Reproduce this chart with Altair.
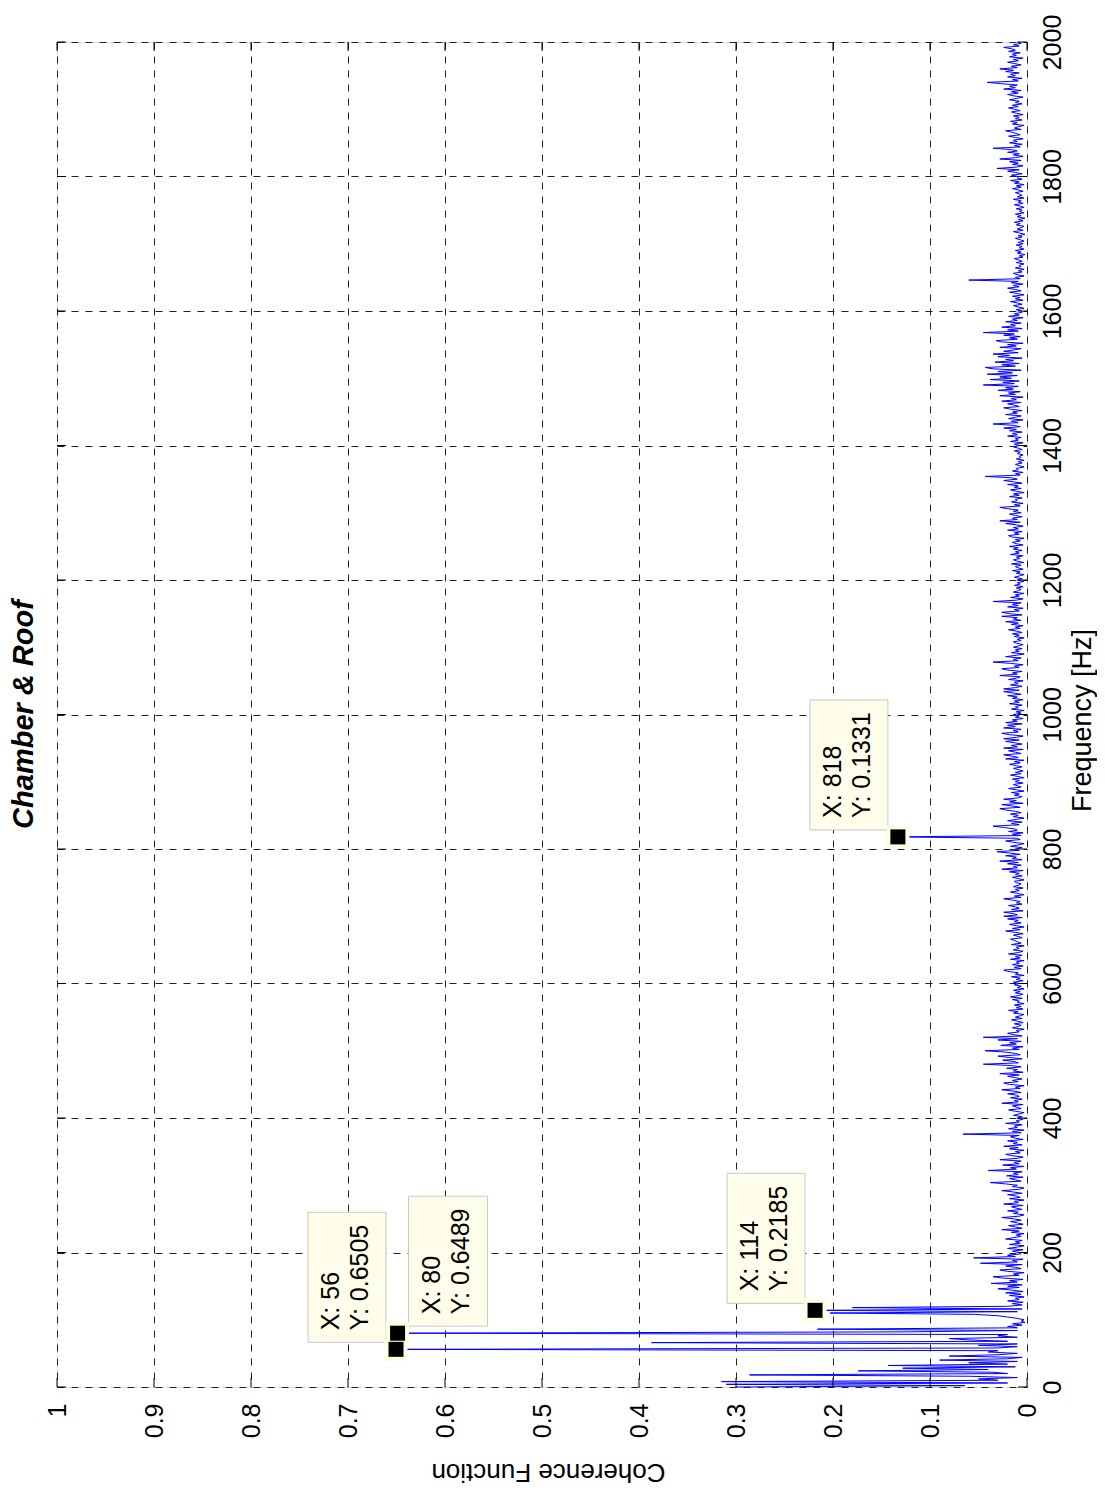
import altair as alt
import pandas as pd

# ---------------- data (coherence in units of 0.001, frequency step 2 Hz) -------------
coh_0000_0198 = [
    300, 64, 310, 20, 315, 30, 50, 10, 60, 286,
    20, 35, 174, 40, 128, 12, 143, 20, 60, 10,
    90, 20, 5, 80, 30, 10, 40, 30, 650.5, 30,
    10, 50, 10, 387, 20, 60, 80, 10, 30, 20,
    648.9, 124, 10, 216, 10, 20, 5, 15, 2, 6,
    3, 10, 20, 30, 54, 203, 10, 218.5, 5, 180,
    20, 5, 15, 4, 20, 8, 12, 3, 18, 6,
    22, 4, 15, 30, 8, 20, 5, 37, 10, 18,
    4, 25, 35, 8, 14, 3, 20, 28, 6, 12,
    22, 5, 48, 10, 15, 4, 55, 12, 20, 6,
]
coh_0200_0398 = [
    8, 15, 4, 20, 10, 3, 18, 7, 12, 5,
    22, 14, 6, 11, 3, 16, 8, 26, 5, 12,
    19, 4, 10, 17, 6, 13, 26, 8, 3, 14,
    9, 20, 5, 11, 16, 4, 24, 9, 13, 3,
    18, 7, 11, 20, 5, 14, 26, 8, 3, 15,
    10, 22, 38, 6, 12, 18, 4, 21, 9, 14,
    5, 40, 11, 17, 3, 25, 8, 13, 6, 28,
    10, 4, 16, 22, 7, 12, 3, 18, 9, 24,
    5, 14, 10, 20, 4, 12, 17, 8, 66, 6,
    15, 3, 19, 10, 13, 5, 22, 8, 11, 4,
]
coh_0400_0598 = [
    10, 5, 14, 8, 3, 12, 19, 6, 10, 15,
    4, 26, 9, 13, 5, 17, 8, 11, 20, 6,
    14, 26, 7, 12, 3, 18, 24, 9, 15, 5,
    12, 20, 8, 28, 4, 14, 10, 21, 6, 16,
    45, 9, 13, 25, 5, 18, 30, 7, 12, 22,
    43, 8, 15, 4, 27, 11, 18, 6, 30, 10,
    45, 5, 14, 20, 8, 11, 3, 15, 9, 6,
    13, 4, 10, 16, 5, 12, 7, 3, 14, 9,
    19, 4, 11, 6, 13, 3, 10, 8, 15, 5,
    17, 9, 4, 12, 7, 14, 3, 10, 6, 13,
]
coh_0600_0798 = [
    8, 14, 4, 11, 7, 16, 3, 12, 9, 20,
    24, 6, 13, 4, 15, 8, 11, 3, 17, 7,
    12, 5, 19, 9, 4, 14, 8, 11, 3, 16,
    6, 10, 13, 17, 5, 9, 14, 4, 12, 22,
    7, 15, 3, 11, 18, 6, 13, 9, 20, 5,
    24, 10, 14, 24, 4, 16, 8, 12, 19, 5,
    11, 7, 15, 24, 6, 13, 3, 10, 17, 8,
    12, 4, 14, 9, 6, 11, 13, 3, 9, 15,
    5, 12, 8, 18, 4, 26, 10, 14, 6, 20,
    9, 28, 5, 15, 11, 22, 7, 18, 31, 8,
]
coh_0800_0998 = [
    12, 5, 17, 9, 3, 14, 22, 7, 11, 133.1,
    6, 15, 4, 19, 10, 13, 24, 35, 8, 16,
    5, 20, 11, 3, 14, 9, 17, 6, 12, 22,
    28, 7, 15, 26, 4, 18, 11, 24, 9, 5,
    13, 8, 16, 3, 11, 19, 6, 10, 14, 4,
    12, 8, 15, 3, 10, 17, 6, 12, 4, 9,
    14, 5, 11, 18, 7, 13, 3, 22, 9, 15,
    24, 6, 12, 19, 4, 24, 10, 16, 5, 13,
    22, 8, 24, 11, 4, 18, 26, 9, 14, 6,
    24, 12, 20, 5, 22, 10, 15, 4, 12, 8,
]
coh_1000_1198 = [
    14, 6, 11, 3, 16, 9, 12, 5, 18, 8,
    13, 4, 15, 10, 20, 6, 14, 24, 8, 24,
    12, 5, 17, 9, 13, 4, 19, 11, 7, 28,
    10, 15, 5, 20, 26, 8, 13, 4, 17, 35,
    9, 14, 6, 22, 11, 3, 16, 8, 12, 5,
    14, 9, 4, 11, 14, 6, 10, 3, 13, 8,
    15, 5, 11, 19, 7, 12, 4, 16, 9, 22,
    6, 14, 10, 26, 5, 18, 26, 8, 13, 4,
    20, 9, 15, 6, 35, 11, 4, 17, 8, 12,
    3, 14, 9, 6, 11, 4, 13, 7, 10, 3,
]
coh_1200_1398 = [
    10, 5, 13, 8, 3, 11, 7, 15, 4, 9,
    12, 6, 16, 3, 10, 14, 7, 11, 4, 17,
    8, 12, 5, 14, 9, 18, 4, 11, 15, 7,
    12, 3, 16, 19, 8, 13, 5, 20, 9, 14,
    4, 11, 22, 7, 28, 10, 15, 5, 12, 18,
    6, 14, 9, 20, 28, 7, 13, 4, 16, 10,
    12, 5, 18, 8, 14, 3, 11, 17, 6, 13,
    9, 20, 5, 14, 24, 10, 16, 43, 7, 12,
    4, 15, 9, 11, 3, 8, 12, 5, 9, 3,
    11, 6, 8, 4, 10, 7, 13, 5, 9, 14,
]
coh_1400_1598 = [
    8, 13, 4, 17, 9, 12, 6, 20, 10, 15,
    5, 18, 11, 24, 7, 14, 35, 9, 16, 4,
    19, 12, 6, 22, 10, 15, 5, 17, 24, 8,
    13, 20, 6, 26, 11, 16, 4, 28, 12, 19,
    7, 30, 14, 22, 9, 45, 13, 25, 8, 38,
    16, 28, 10, 41, 15, 30, 6, 35, 43, 12,
    26, 8, 33, 14, 22, 5, 30, 18, 35, 9,
    24, 14, 6, 28, 11, 20, 4, 26, 32, 10,
    18, 7, 24, 13, 45, 9, 20, 5, 26, 12,
    17, 6, 22, 10, 15, 4, 19, 8, 13, 5,
]
coh_1600_1798 = [
    6, 11, 3, 9, 14, 5, 10, 17, 4, 12,
    7, 15, 3, 10, 18, 6, 12, 20, 8, 14,
    4, 16, 9, 60, 7, 12, 3, 10, 14, 5,
    9, 3, 12, 6, 8, 3, 11, 5, 9, 13,
    4, 8, 2, 10, 6, 12, 3, 8, 5, 11,
    4, 9, 3, 7, 12, 5, 9, 2, 8, 14,
    4, 10, 6, 3, 11, 7, 13, 4, 9, 2,
    10, 6, 12, 3, 8, 5, 11, 3, 7, 13,
    4, 9, 6, 14, 3, 10, 5, 8, 12, 4,
    9, 15, 6, 11, 3, 13, 8, 17, 5, 10,
]
coh_1800_2000 = [
    9, 16, 5, 12, 20, 8, 31, 11, 4, 15,
    9, 18, 6, 28, 12, 4, 14, 8, 20, 10,
    16, 35, 7, 13, 5, 18, 10, 14, 4, 12,
    19, 7, 11, 16, 22, 6, 13, 9, 3, 15,
    10, 17, 5, 12, 8, 14, 4, 11, 16, 7,
    13, 19, 9, 15, 5, 12, 8, 18, 11, 4,
    14, 20, 9, 16, 6, 24, 12, 18, 10, 26,
    41, 9, 15, 5, 20, 12, 17, 8, 22, 14,
    28, 10, 16, 6, 13, 20, 9, 14, 4, 18,
    11, 15, 7, 19, 12, 16, 24, 8, 14, 6,
    10,
]

coh_ticks = [0, 0.1, 0.2, 0.3, 0.4, 0.5, 0.6, 0.7, 0.8, 0.9, 1]
freq_ticks = [0, 200, 400, 600, 800, 1000, 1200, 1400, 1600, 1800, 2000]

tip_freq = [56, 80, 114, 818]
tip_coh = [0.6505, 0.6489, 0.2185, 0.1331]
tip_side = ["left", "right", "left", "left"]

# ---------------- tables ----------------
coh_milli = (coh_0000_0198 + coh_0200_0398 + coh_0400_0598 + coh_0600_0798 +
             coh_0800_0998 + coh_1000_1198 + coh_1200_1398 + coh_1400_1598 +
             coh_1600_1798 + coh_1800_2000)
freq = list(range(0, 2001, 2))
assert len(freq) == len(coh_milli)
df = pd.DataFrame({"f": freq, "c": [v / 1000 for v in coh_milli]})

tips = pd.DataFrame({
    "f": tip_freq,
    "c": tip_coh,
    "side": tip_side,
    "xl": [f"X: {v}" for v in tip_freq],
    "yl": [f"Y: {v:.4f}" for v in tip_coh],
})
xt = pd.DataFrame({"c": coh_ticks})
yt = pd.DataFrame({"f": freq_ticks})

W, H = 970, 1345
FONT = "Liberation Sans"
TIP_FILL = "#fdfdea"

xscale = alt.Scale(domain=[0, 1], reverse=True, nice=False, zero=False)
yscale = alt.Scale(domain=[0, 2000], nice=False, zero=False)

xaxis = alt.Axis(
    values=coh_ticks, format=".1~f", labelAngle=270, labelAlign="right",
    labelBaseline="middle", labelPadding=16, ticks=False, tickSize=0,
    domain=False, grid=True, gridDash=[7, 7], gridColor="#222222", gridWidth=1,
    labelFontSize=25, labelFont=FONT, labelColor="black", labelFlush=False,
    labelOverlap=False, title="Coherence Function", titleAngle=180,
    titleX=491, titleY=84, titleAlign="center", titleBaseline="middle",
    titleFont=FONT, titleFontSize=26, titleFontWeight="normal", titleColor="black",
)
yaxis = alt.Axis(
    orient="right", values=freq_ticks, format="d", labelAngle=270,
    labelAlign="center", labelBaseline="top", labelPadding=13, ticks=False,
    tickSize=0, domain=False, grid=True, gridDash=[7, 7], gridColor="#222222",
    gridWidth=1, labelFontSize=25, labelFont=FONT, labelColor="black",
    labelFlush=False, labelOverlap=False, title="Frequency [Hz]", titleAngle=270,
    titleX=55, titleY=678, titleAlign="center", titleBaseline="middle",
    titleFont=FONT, titleFontSize=27, titleFontWeight="normal", titleColor="black",
)

line = alt.Chart(df).mark_line(color="#0000ff", strokeWidth=1).encode(
    x=alt.X("c:Q", scale=xscale, axis=xaxis),
    y=alt.Y("f:Q", scale=yscale, axis=yaxis),
    order="f:Q",
)

tick_style = dict(color="black", strokeWidth=1)
ticks_bottom = alt.Chart(xt).mark_rule(**tick_style).encode(
    x=alt.X("c:Q", scale=xscale), y=alt.value(H - 9), y2=alt.value(H))
ticks_top = alt.Chart(xt).mark_rule(**tick_style).encode(
    x=alt.X("c:Q", scale=xscale), y=alt.value(0), y2=alt.value(9))
ticks_right = alt.Chart(yt).mark_rule(**tick_style).encode(
    y=alt.Y("f:Q", scale=yscale), x=alt.value(W - 9), x2=alt.value(W))
ticks_left = alt.Chart(yt).mark_rule(**tick_style).encode(
    y=alt.Y("f:Q", scale=yscale), x=alt.value(0), x2=alt.value(9))

tbase = alt.Chart(tips)
pos = dict(x=alt.X("c:Q", scale=xscale), y=alt.Y("f:Q", scale=yscale))
pos2 = dict(x=alt.X("c:Q", scale=xscale), x2=alt.X2("c"),
            y=alt.Y("f:Q", scale=yscale), y2=alt.Y2("f"))


def tip_layers(side, box_x0, box_x1, tx, ty):
    b = tbase.transform_filter(alt.datum.side == side)
    box = b.mark_rect(fill=TIP_FILL, stroke="#c8c8c8", strokeWidth=1,
                      xOffset=box_x0, x2Offset=box_x1, yOffset=-137,
                      y2Offset=-7).encode(**pos2)
    t1 = b.mark_text(angle=270, align="left", baseline="middle", fontSize=25,
                     font=FONT, color="black", xOffset=tx, yOffset=-19
                     ).encode(text="xl:N", **pos)
    t2 = b.mark_text(angle=270, align="left", baseline="middle", fontSize=25,
                     font=FONT, color="black", xOffset=ty, yOffset=-19
                     ).encode(text="yl:N", **pos)
    return [box, t1, t2]


tips_left = tip_layers("left", -88, -10, -65, -36)
tips_right = tip_layers("right", 11, 90, 34, 63)

halo = tbase.mark_square(size=529, color="#fdfde0", opacity=1, filled=True).encode(**pos)
marker = tbase.mark_square(size=225, color="black", opacity=1, filled=True).encode(**pos)

chart = alt.layer(
    line, ticks_bottom, ticks_top, ticks_right, ticks_left,
    *tips_left, *tips_right, halo, marker,
).properties(
    width=W, height=H,
    title=alt.TitleParams(
        text="Chamber & Roof", orient="left", anchor="middle", frame="group",
        offset=6, fontSize=29, font=FONT, fontWeight="bold",
        fontStyle="italic", color="black",
    ),
    padding={"left": 49, "top": 34, "right": 70, "bottom": 100},
    autosize=alt.AutoSizeParams(type="none"),
).configure_view(
    stroke="black", strokeWidth=1.5
).configure(background="white")

chart.save("out.html", embed_options={"renderer": "svg", "actions": False})
